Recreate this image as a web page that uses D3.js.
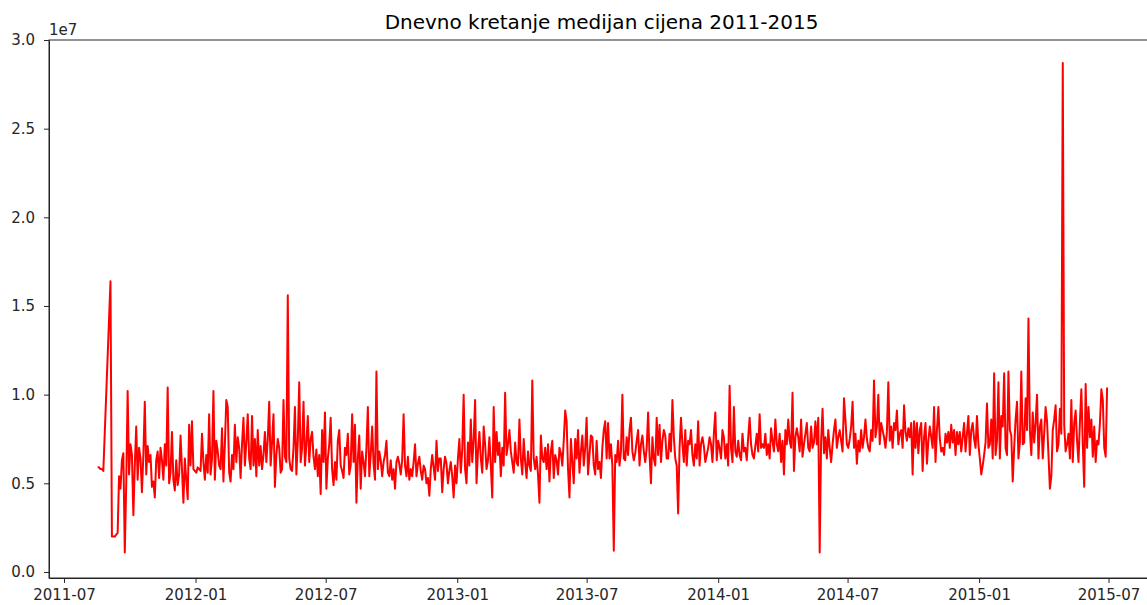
<!DOCTYPE html>
<html>
<head>
<meta charset="utf-8">
<script src="https://cdn.jsdelivr.net/npm/d3@7"></script>
<style>
  body { margin: 0; background: #fff; }
  svg { display: block; font-family: "DejaVu Sans", sans-serif; }
</style>
</head>
<body>
<svg id="chart" width="1147" height="605"></svg>
<script>
// daily median price, sampled every 2 days, in units of 100 000 (null = no data)
const chartTitle = "Dnevno kretanje medijan cijena 2011-2015";
const startDate = "2011-08-17";
const stepDays = 2;
const priceUnit = 1e5;
const medianPrice = [
  59,59,58, 58,57,null, null,null,null, 164,20,20, 20,21,22, 54,47,63, 67,11,49, 102,55,72, 66,32,60, 82,52,70,
  64,45,66, 96,55,71, 62,66,48, 51,42,63, 68,53,70, 63,52,72, 60,104,50, 56,79,52, 46,63,49, 55,77,58,
  39,64,52, 41,83,60, 85,58,57, 56,59,58, 57,78,62, 52,66,56, 89,55,64, 102,52,74, 68,60,58, 81,51,72,
  97,93,56, 51,66,58, 83,62,76, 70,53,72, 87,60,73, 89,64,58, 88,60,75, 54,80,60, 71,58,66, 79,62,75,
  96,60,73, 89,48,66, 75,70,56, 58,97,65, 62,156,64, 58,57,70, 93,55,74, 107,62,70, 96,60,72, 88,62,75,
  79,65,58, 69,54,66, 44,80,62, 90,47,64, 72,87,58, 49,62,52, 74,80,60, 57,53,70, 66,78,55, 60,89,62,
  83,39,64, 77,47,68, 62,54,70, 93,54,66, 82,61,52, 113,58,68, 63,54,62, 66,74,56, 54,63,52, 58,47,62,
  65,61,55, 63,89,60, 54,65,52, 58,54,62, 72,54,61, 65,57,52, 60,58,50, 53,43,58, 66,59,52, 74,57,64,
  64,45,58, 65,61,50, 57,62,54, 42,60,50, 64,75,56, 69,100,58, 50,73,60, 86,62,74, 97,50,68, 79,64,56,
  82,72,58, 63,76,60, 42,93,62, 79,66,73, 54,70,60, 101,66,72, 80,68,62, 56,73,62, 60,86,64, 55,75,62,
  53,68,60, 57,108,64, 58,65,55, 39,77,64, 62,70,58, 72,51,68, 74,53,66, 63,55,70, 67,60,74, 91,85,58,
  42,75,62, 50,75,64, 80,56,68, 77,60,70, 87,55,66, 77,76,60, 55,74,58, 62,53,70, 80,85,64, 84,64,72,
  60,12,66, 62,74,60, 68,100,64, 63,76,66, 80,87,68, 63,67,74, 80,60,72, 77,68,62, 70,90,66, 50,76,64,
  60,87,66, 83,62,74, 80,77,64, 64,78,68, 97,76,64, 60,33,70, 87,72,62, 80,60,74, 72,80,66, 60,72,64,
  85,60,72, 76,71,62, 66,70,76, 72,62,78, 90,63,74, 70,64,80, 76,64,72, 60,105,70, 62,93,68, 65,74,66,
  63,78,68, 70,63,76, 87,72,66, 64,71,78, 68,89,70, 72,70,78, 66,72,64, 81,74,68, 86,72,68, 78,62,74,
  55,80,72, 86,74,70, 101,57,76, 81,76,68, 86,65,72, 78,84,70, 68,82,70, 73,85,72, 87,11,74, 92,67,76,
  64,80,70, 62,72,80, 86,70,76, 80,74,68, 98,86,72, 70,75,82, 96,70,78, 61,74,68, 80,70,76, 86,75,70,
  68,80,74, 108,76,82, 100,72,84, 80,76,70, 79,107,74, 82,70,84, 80,91,72, 78,80,70, 94,79,74, 81,76,84,
  55,85,70, 84,67,80, 84,57,76, 84,61,74, 82,76,70, 93,62,80, 93,75,68, 70,66,78, 73,79,70, 83,73,80,
  66,79,72, 79,68,76, 84,68,78, 88,66,80, 84,75,70, 88,72,64, 55,60,66, 73,95,70, 72,86,64, 112,66,74,
  107,64,88, 82,112,70, 66,113,80, 77,51,70, 86,96,64, 73,113,72, 73,98,80, 143,80,66, 90,73,84, 100,64,82,
  86,64,78, 93,85,66, 47,54,80, 86,94,68, 72,92,78, 287,83,68, 72,78,64, 97,62,84, 91,74,62, 85,103,72,
  48,106,70, 93,76,86, 65,82,62, 74,72,84, 103,97,70, 65,104
];
const xTickLabels = ["2011-07","2012-01","2012-07","2013-01","2013-07","2014-01","2014-07","2015-01","2015-07"];
const yTickLabels = ["0.0","0.5","1.0","1.5","2.0","2.5","3.0"];
const yExponent = "1e7";

const margin = {top: 40, left: 49};
const width = 1111, height = 538;

const parseDay = d3.timeParse("%Y-%m-%d");
const parseMonth = d3.timeParse("%Y-%m");
const t0 = parseDay(startDate);

const data = medianPrice
  .map((v, i) => ({date: d3.timeDay.offset(t0, i * stepDays), value: v === null ? null : v * priceUnit}))
  .filter(d => d.value !== null);

const svg = d3.select("#chart");
svg.append("rect").attr("width", 1147).attr("height", 605).attr("fill", "#fff");

const g = svg.append("g")
  .attr("transform", "translate(" + margin.left + "," + margin.top + ")");

const x = d3.scaleTime()
  .domain([parseDay("2011-06-10"), parseDay("2015-09-11")])
  .range([0, width]);

const y = d3.scaleLinear()
  .domain([-0.34e6, 3.0e7])
  .range([height, 0]);

// line
const line = d3.line()
  .x(d => x(d.date))
  .y(d => y(d.value));

g.append("path")
  .datum(data)
  .attr("fill", "none")
  .attr("stroke", "#ff0000")
  .attr("stroke-width", 2)
  .attr("stroke-linejoin", "round")
  .attr("d", line);

// axes
const xAxis = g.append("g")
  .attr("transform", "translate(0," + height + ")")
  .call(d3.axisBottom(x)
    .tickValues(xTickLabels.map(parseMonth))
    .tickFormat(d3.timeFormat("%Y-%m"))
    .tickSize(5).tickSizeOuter(0).tickPadding(6));

const yAxis = g.append("g")
  .call(d3.axisLeft(y)
    .tickValues(yTickLabels.map(s => +s * 1e7))
    .tickFormat((d, i) => yTickLabels[i])
    .tickSize(5).tickSizeOuter(0).tickPadding(9));

[xAxis, yAxis].forEach(a => {
  a.selectAll("text").attr("font-size", 15).attr("fill", "#262626").attr("font-family", "DejaVu Sans, sans-serif");
  a.selectAll("line").attr("stroke", "#262626");
  a.select(".domain").attr("stroke", "#262626");
});

// frame
g.append("rect")
  .attr("width", width).attr("height", height)
  .attr("fill", "none").attr("stroke", "#262626").attr("stroke-width", 1);

svg.append("text")
  .attr("x", margin.left).attr("y", 35)
  .attr("font-size", 15).attr("fill", "#262626")
  .text(yExponent);

svg.append("text")
  .attr("x", margin.left + width / 2 - 3).attr("y", 29)
  .attr("text-anchor", "middle")
  .attr("font-size", 20).attr("fill", "#000")
  .text(chartTitle);
</script>
</body>
</html>
